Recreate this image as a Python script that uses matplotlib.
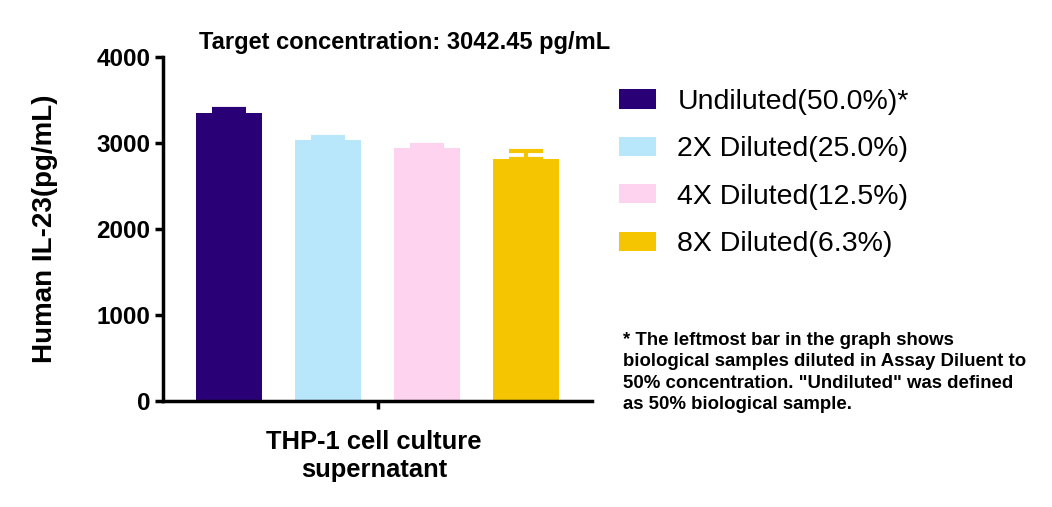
import matplotlib
matplotlib.use("Agg")
import matplotlib.pyplot as plt
from matplotlib.patches import Patch

plt.rcParams['font.family'] = ['Liberation Sans', 'DejaVu Sans']

categories = ["Undiluted(50.0%)*", "2X Diluted(25.0%)", "4X Diluted(12.5%)", "8X Diluted(6.3%)"]
values = [3352, 3035, 2942, 2810]
errors = [40, 38, 31, 100]
colors = ["#2a0077", "#b8e6fa", "#fdd3ef", "#f4c500"]
yticks = [0, 1000, 2000, 3000, 4000]

fig = plt.figure(figsize=(10.52, 5.07), dpi=100)
ax = fig.add_axes([163/1052, 1-401/507, (592-163)/1052, (401-57)/507])

x = list(range(len(values)))
for i in x:
    ax.bar(i, values[i], width=0.67, color=colors[i], zorder=2)
    ax.errorbar(i, values[i], yerr=[[0], [errors[i]]], fmt='none', ecolor=colors[i],
                elinewidth=3, capsize=12, capthick=3, zorder=1)

ax.set_xlim(-0.67, 3.67)
ax.set_ylim(0, 4000)
ax.set_yticks(yticks)
ax.set_yticklabels([str(t) for t in yticks], fontsize=17.5, fontweight='bold')
ax.set_xticks([1.5])
ax.set_xticklabels([""])
ax.spines['top'].set_visible(False)
ax.spines['right'].set_visible(False)
for s in ['left', 'bottom']:
    ax.spines[s].set_linewidth(2.5)
ax.tick_params(axis='both', width=2.5, length=6, pad=3)

ax.set_ylabel("Human IL-23(pg/mL)", fontsize=20, fontweight='bold', labelpad=28)
fig.text(374/1052, 1-456/507, "THP-1 cell culture\nsupernatant", ha='center', va='center',
         fontsize=18.4, fontweight='bold', linespacing=1.2)
fig.text(405/1052, 1-42/507, "Target concentration: 3042.45 pg/mL", ha='center', va='center',
         fontsize=17, fontweight='bold')

handles = [Patch(facecolor=c, edgecolor='none') for c in colors]
fig.legend(handles, categories, loc='upper left', bbox_to_anchor=(619/1052, 1-89/507),
           frameon=False, fontsize=20.5, handlelength=1.3, handleheight=0.65,
           labelspacing=0.75, handletextpad=0.75, borderaxespad=0, borderpad=0)

fig.text(623/1052, 1-332/507,
         "* The leftmost bar in the graph shows\nbiological samples diluted in Assay Diluent to\n50% concentration. \"Undiluted\" was defined\nas 50% biological sample.",
         ha='left', va='top', fontsize=13.4, fontweight='bold', linespacing=1.33)

fig.savefig("out.png", dpi=100)
